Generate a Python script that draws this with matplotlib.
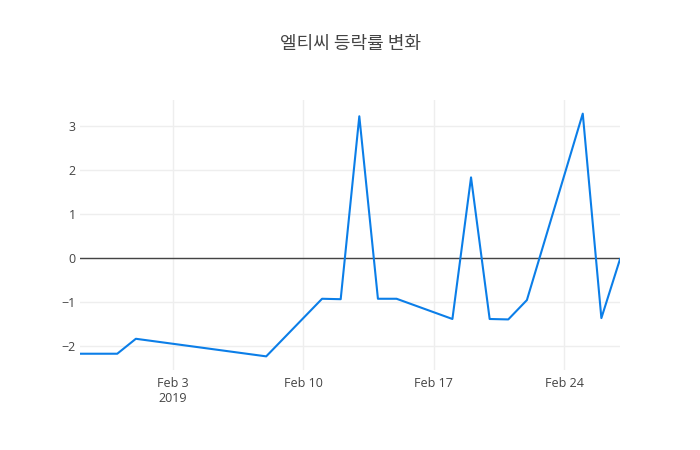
import datetime as dt
import matplotlib
matplotlib.use("Agg")
import matplotlib.pyplot as plt
import matplotlib.dates as mdates

# 엘티씨 daily change rate (%)
dates = ["2019-01-29", "2019-01-31", "2019-02-01", "2019-02-08", "2019-02-11",
         "2019-02-12", "2019-02-13", "2019-02-14", "2019-02-15", "2019-02-18",
         "2019-02-19", "2019-02-20", "2019-02-21", "2019-02-22", "2019-02-25",
         "2019-02-26", "2019-02-27"]
rates = [-2.17, -2.17, -1.83, -2.23, -0.92, -0.93, 3.23, -0.92, -0.92, -1.38,
         1.84, -1.38, -1.39, -0.95, 3.29, -1.36, -0.02]

tick_dates = ["2019-02-03", "2019-02-10", "2019-02-17", "2019-02-24"]
tick_labels = ["Feb 3\n2019", "Feb 10", "Feb 17", "Feb 24"]
y_ticks = [-2, -1, 0, 1, 2, 3]

x = [dt.datetime.strptime(d, "%Y-%m-%d") for d in dates]
xt = [dt.datetime.strptime(d, "%Y-%m-%d") for d in tick_dates]

plt.rcParams['font.family'] = ['Open Sans', 'Noto Sans CJK KR', 'DejaVu Sans']

fig = plt.figure(figsize=(7, 4.5), dpi=100)
ax = fig.add_axes([80 / 700, 80 / 450, 540 / 700, 270 / 450])

ax.plot(x, rates, color='#0b7ee8', linewidth=1.5, zorder=3)
ax.axhline(0, color='#444444', linewidth=1, zorder=2)

ax.set_xlim(x[0], x[-1])
ax.set_ylim(-2.54, 3.6)
ax.set_xticks(xt)
ax.set_xticklabels(tick_labels)
ax.set_yticks(y_ticks)
ax.set_yticklabels([str(v).replace('-', '\u2212') for v in y_ticks])

ax.grid(True, color='#eeeeee', linewidth=1, zorder=0)
ax.set_axisbelow(True)
for s in ax.spines.values():
    s.set_visible(False)
ax.tick_params(length=0, labelsize=9, labelcolor='#444444')
ax.tick_params(axis='x', pad=5)
ax.tick_params(axis='y', pad=3)

fig.text(0.5, 1 - 44 / 450, "엘티씨 등락률 변화", ha='center', va='center',
         fontsize=13, color='#444444', family=['Noto Sans CJK KR', 'DejaVu Sans'])

fig.savefig("out.png", dpi=100)
